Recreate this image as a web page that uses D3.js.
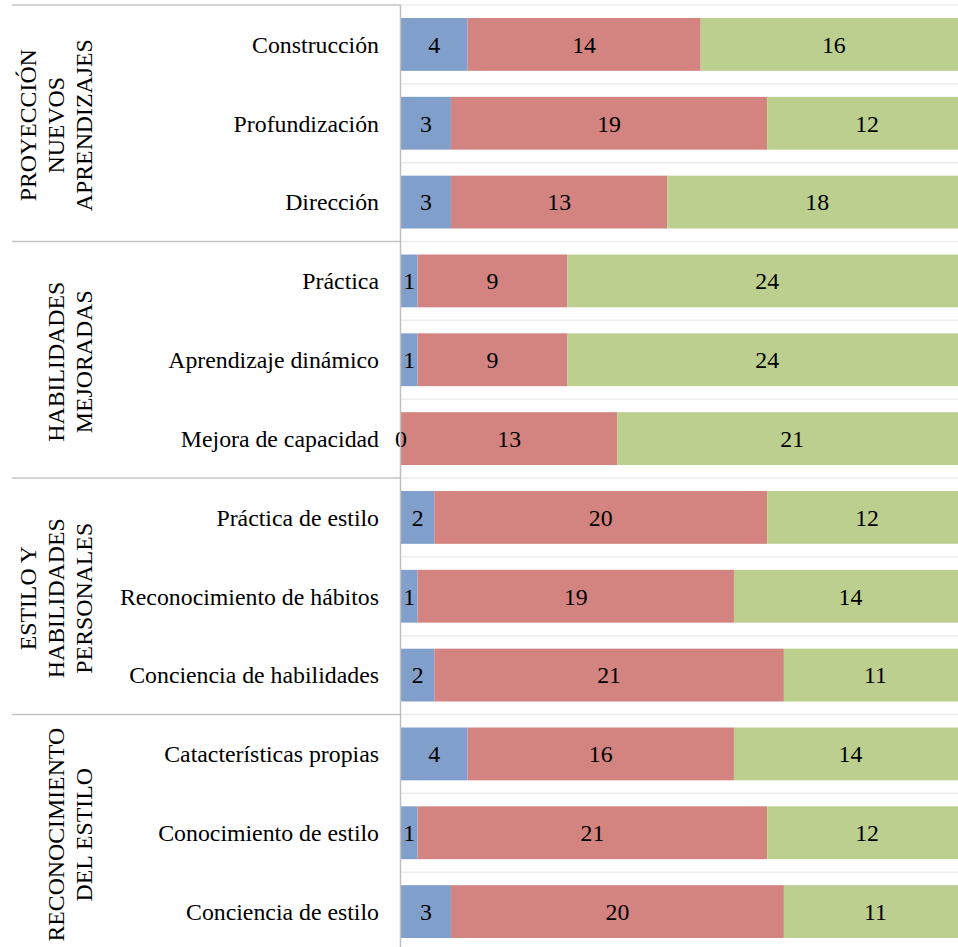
<!DOCTYPE html>
<html>
<head>
<meta charset="utf-8">
<script src="https://cdn.jsdelivr.net/npm/d3@7"></script>
<style>
  html, body { margin: 0; padding: 0; background: #fff; }
  svg { display: block; }
  text { font-family: "Liberation Serif", "Times New Roman", serif; fill: #000; }
</style>
</head>
<body>
<div id="chart"></div>
<script>
// ---- Data ----
const groups = [
  { name: ["PROYECCIÓN", "NUEVOS", "APRENDIZAJES"], items: ["Construcción", "Profundización", "Dirección"] },
  { name: ["HABILIDADES", "MEJORADAS"], items: ["Práctica", "Aprendizaje dinámico", "Mejora de capacidad"] },
  { name: ["ESTILO Y", "HABILIDADES", "PERSONALES"], items: ["Práctica de estilo", "Reconocimiento de hábitos", "Conciencia de habilidades"] },
  { name: ["RECONOCIMIENTO", "DEL ESTILO"], items: ["Catacterísticas propias", "Conocimiento de estilo", "Conciencia de estilo"] }
];
const categories = ["Construcción", "Profundización", "Dirección", "Práctica", "Aprendizaje dinámico", "Mejora de capacidad", "Práctica de estilo", "Reconocimiento de hábitos", "Conciencia de habilidades", "Catacterísticas propias", "Conocimiento de estilo", "Conciencia de estilo"];
const series1 = [4, 3, 3, 1, 1, 0, 2, 1, 2, 4, 1, 3];
const series2 = [14, 19, 13, 9, 9, 13, 20, 19, 21, 16, 21, 20];
const series3 = [16, 12, 18, 24, 24, 21, 12, 14, 11, 14, 12, 11];
const colors = ["#809FCB", "#D38380", "#BCCF8F"];

// ---- Layout ----
const W = 958, H = 947;
const topY = 5, bottomY = 951;
const axisX = 401, rightX = 967;
const fontSize = 23.8;

const svg = d3.select("#chart").append("svg").attr("width", W).attr("height", H);

const y = d3.scaleBand().domain(categories).range([topY, bottomY]).paddingInner(0.33).paddingOuter(0.165);
const x = d3.scaleLinear().domain([0, 34]).range([axisX, rightX]);
const step = y.step();

// light gridlines at category boundaries in plot area
const boundaries = d3.range(categories.length + 1).map(i => topY + i * step);
svg.append("g").selectAll("line").data(boundaries).join("line")
  .attr("x1", axisX).attr("x2", W).attr("y1", d => d).attr("y2", d => d)
  .attr("stroke", "#ededed").attr("stroke-width", 1.5);

// stacked data
const stackData = categories.map((c, i) => ({ cat: c, s0: series1[i], s1: series2[i], s2: series3[i] }));
const stack = d3.stack().keys(["s0", "s1", "s2"])(stackData);

const layers = svg.append("g").selectAll("g").data(stack).join("g").attr("fill", (d, i) => colors[i]);
layers.selectAll("rect").data(d => d).join("rect")
  .attr("x", d => x(d[0]))
  .attr("y", d => y(d.data.cat))
  .attr("width", d => x(d[1]) - x(d[0]))
  .attr("height", y.bandwidth());

// value labels
const labels = svg.append("g").attr("font-size", fontSize).attr("text-anchor", "middle");
stack.forEach(layer => {
  labels.selectAll(null).data(layer).join("text")
    .attr("x", d => (x(d[0]) + x(d[1])) / 2)
    .attr("y", d => y(d.data.cat) + y.bandwidth() / 2)
    .attr("dy", "0.35em")
    .text(d => d[1] - d[0]);
});

// group separator lines on the left
const groupBounds = d3.range(groups.length + 1).map(g => topY + g * 3 * step);
svg.append("g").selectAll("line").data(groupBounds).join("line")
  .attr("x1", 12).attr("x2", axisX).attr("y1", d => d).attr("y2", d => d)
  .attr("stroke", "#c4c4c4").attr("stroke-width", 1.5);

// vertical axis line
svg.append("line").attr("x1", axisX - 0.5).attr("x2", axisX - 0.5).attr("y1", topY).attr("y2", H)
  .attr("stroke", "#bfbfbf").attr("stroke-width", 1.5);

// category labels
svg.append("g").attr("font-size", fontSize).attr("text-anchor", "end")
  .selectAll("text").data(categories).join("text")
  .attr("x", 379)
  .attr("y", d => y(d) + y.bandwidth() / 2)
  .attr("dy", "0.35em")
  .text(d => d);

// group labels (rotated)
groups.forEach((g, gi) => {
  const cy = topY + (gi * 3 + 1.5) * step + 2;
  const n = g.name.length;
  g.name.forEach((line, li) => {
    const bx = 92 - 28 * (n - 1 - li);
    svg.append("text")
      .attr("font-size", fontSize)
      .attr("text-anchor", "middle")
      .attr("transform", `translate(${bx},${cy}) rotate(-90)`)
      .text(line);
  });
});
</script>
</body>
</html>
